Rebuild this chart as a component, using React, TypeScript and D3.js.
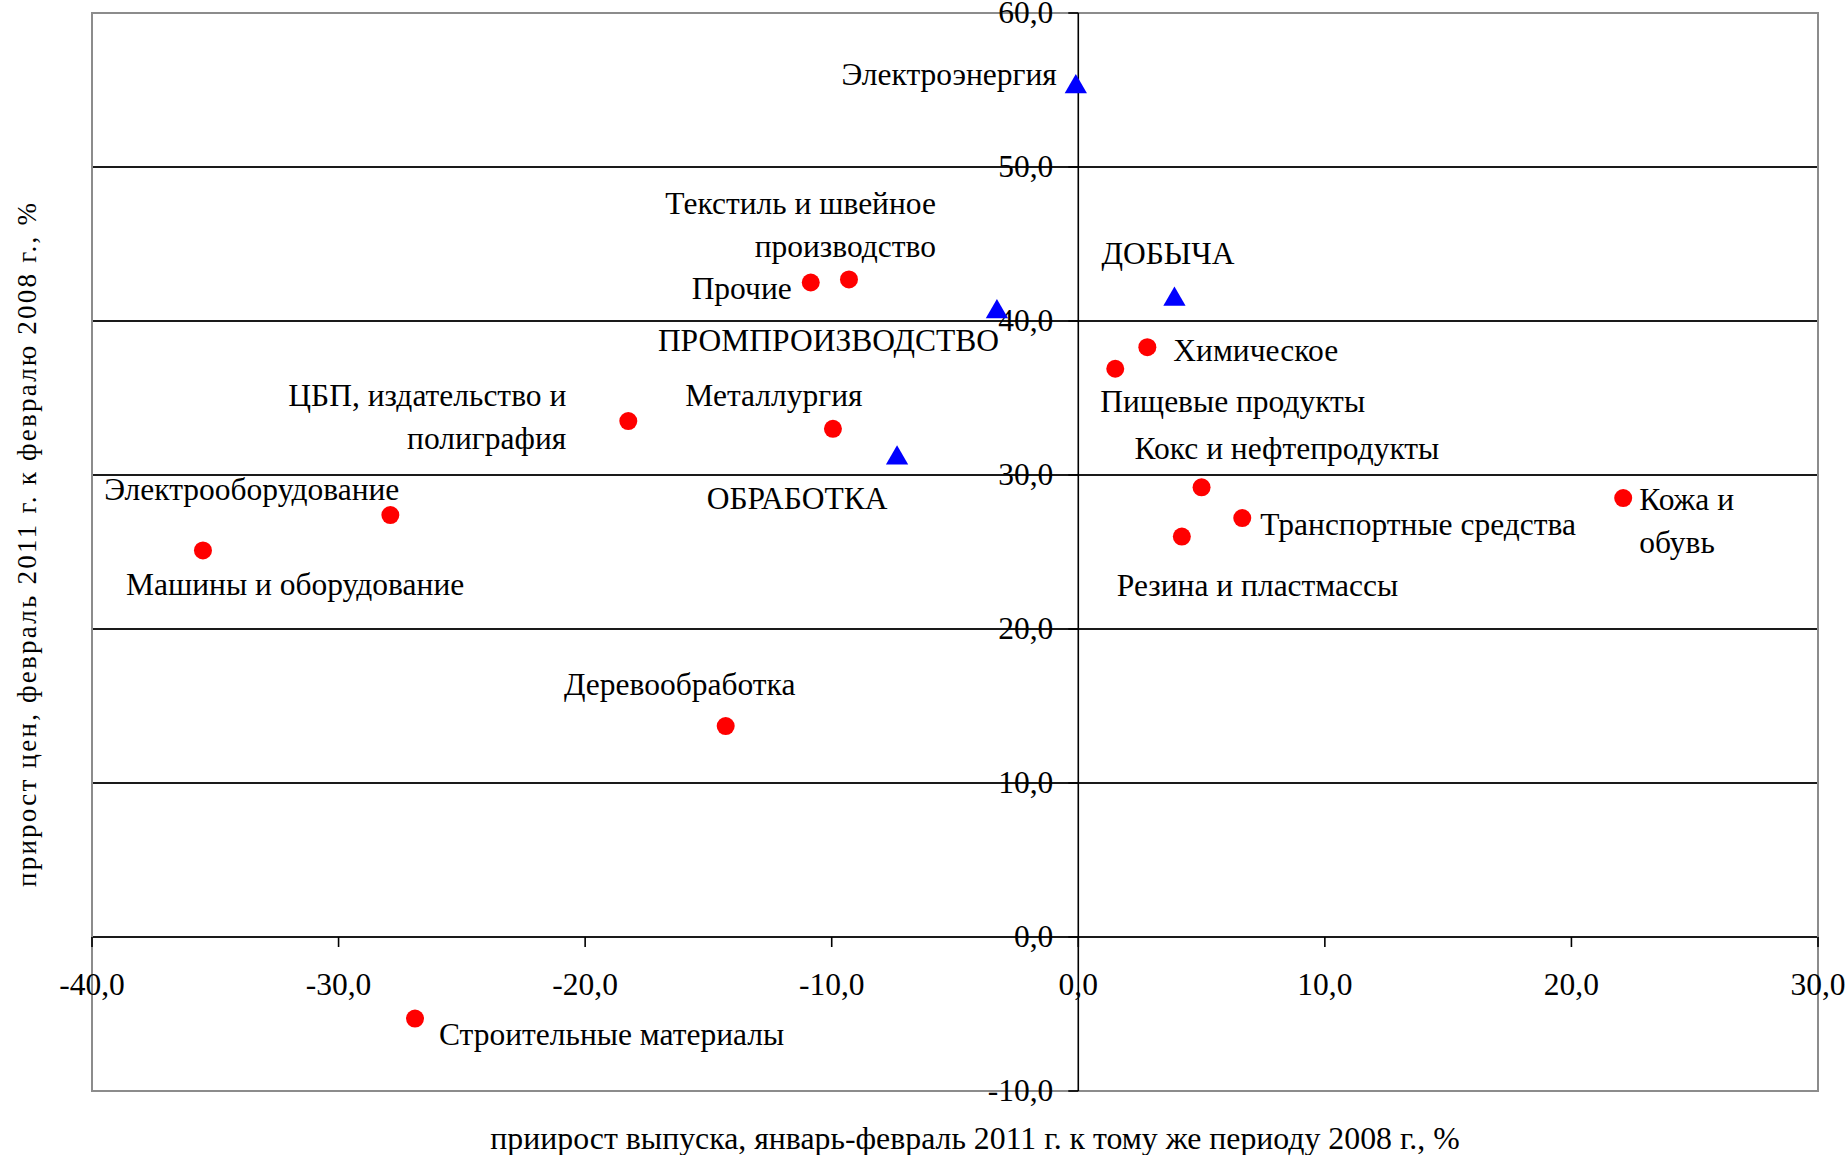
import React from 'react';
import * as d3 from 'd3';

// ---- data ----
const sectorNames = [
  'Прочие',
  'Текстиль и швейное\nпроизводство',
  'ЦБП, издательство и\nполиграфия',
  'Металлургия',
  'Электрооборудование',
  'Машины и оборудование',
  'Деревообработка',
  'Строительные материалы',
  'Пищевые продукты',
  'Химическое',
  'Кокс и нефтепродукты',
  'Транспортные средства',
  'Резина и пластмассы',
  'Кожа и\nобувь',
];
const sectorOutput = [-10.85, -9.3, -18.25, -9.95, -27.9, -35.5, -14.3, -26.9, 1.5, 2.8, 5.0, 6.65, 4.2, 22.1];
const sectorPrice = [42.5, 42.7, 33.5, 33.0, 27.4, 25.1, 13.7, -5.3, 36.9, 38.3, 29.2, 27.2, 26.0, 28.5];

const aggregateNames = ['Электроэнергия', 'ДОБЫЧА', 'ПРОМПРОИЗВОДСТВО', 'ОБРАБОТКА'];
const aggregateOutput = [-0.1, 3.9, -3.3, -7.35];
const aggregatePrice = [55.2, 41.4, 40.6, 31.1];

const xTicks = [-40, -30, -20, -10, 0, 10, 20, 30];
const yTicks = [-10, 0, 10, 20, 30, 40, 50, 60];

const xTitle = 'приирост выпуска, январь-февраль 2011 г. к тому же периоду 2008 г., %';
const yTitle = 'прирост цен, февраль 2011 г. к февралю 2008 г., %';

// ---- label layout (pixel offsets from marker) ----
type Lay = { a: 'start' | 'middle' | 'end'; dx: number; dy: number };
const sectorLayout: Lay[] = [
  { a: 'end', dx: -19, dy: 6 },
  { a: 'end', dx: 87, dy: -75 },
  { a: 'end', dx: -62, dy: -25 },
  { a: 'middle', dx: -59, dy: -33 },
  { a: 'end', dx: 9, dy: -25 },
  { a: 'start', dx: -77, dy: 35 },
  { a: 'middle', dx: -46, dy: -41 },
  { a: 'start', dx: 24, dy: 16 },
  { a: 'start', dx: -15, dy: 33 },
  { a: 'start', dx: 26, dy: 4 },
  { a: 'start', dx: -67, dy: -38 },
  { a: 'start', dx: 18, dy: 7 },
  { a: 'start', dx: -65, dy: 49 },
  { a: 'start', dx: 16, dy: 2 },
];
const aggregateLayout: Lay[] = [
  { a: 'end', dx: -19, dy: -12 },
  { a: 'start', dx: -73, dy: -45 },
  { a: 'end', dx: 2, dy: 29 },
  { a: 'middle', dx: -100, dy: 41 },
];

const W = 1847;
const H = 1155;
const plot = { left: 92, right: 1818, top: 13, bottom: 1091 };
const FONT = '"Liberation Serif", "Times New Roman", serif';
const FS = 31.5;
const LH = 43;

const fmt = (v: number) => v.toFixed(1).replace('.', ',');

export default function App() {
  const x = d3.scaleLinear().domain([-40, 30]).range([plot.left, plot.right]);
  const y = d3.scaleLinear().domain([-10, 60]).range([plot.bottom, plot.top]);
  const tri = d3.symbol().type(d3.symbolTriangle).size(215)()!;

  const label = (name: string, px: number, py: number, lay: Lay, key: string) => (
    <text key={key} x={px + lay.dx} y={py + lay.dy + 10} textAnchor={lay.a} fontFamily={FONT} fontSize={FS} fill="#000">
      {name.split('\n').map((line, i) => (
        <tspan key={i} x={px + lay.dx} dy={i === 0 ? 0 : LH}>{line}</tspan>
      ))}
    </text>
  );

  return (
    <svg width={W} height={H} style={{ position: 'absolute', left: 0, top: 0, background: '#fff' }}>
      <rect x={0} y={0} width={W} height={H} fill="#fff" />
      {/* grid lines */}
      {yTicks.filter(t => t !== -10 && t !== 60).map(t => (
        <line key={'g' + t} x1={plot.left} x2={plot.right} y1={y(t)} y2={y(t)} stroke="#1a1a1a" strokeWidth={2} />
      ))}
      {/* plot border */}
      <rect x={plot.left} y={plot.top} width={plot.right - plot.left} height={plot.bottom - plot.top} fill="none" stroke="#8c8c8c" strokeWidth={2} />
      {/* vertical axis */}
      <line x1={x(0)} x2={x(0)} y1={plot.top} y2={plot.bottom} stroke="#000" strokeWidth={1.6} />
      {yTicks.map(t => (
        <line key={'yt' + t} x1={x(0) - 10} x2={x(0)} y1={y(t)} y2={y(t)} stroke="#000" strokeWidth={1.6} />
      ))}
      {/* horizontal axis ticks */}
      {xTicks.map(t => (
        <line key={'xt' + t} x1={x(t)} x2={x(t)} y1={y(0)} y2={y(0) + 10} stroke="#000" strokeWidth={1.6} />
      ))}
      {/* tick labels */}
      {yTicks.map(t => (
        <text key={'yl' + t} x={x(0) - 25} y={y(t) + 10} textAnchor="end" fontFamily={FONT} fontSize={FS} fill="#000">{fmt(t)}</text>
      ))}
      {xTicks.map(t => (
        <text key={'xl' + t} x={x(t)} y={y(0) + 58} textAnchor="middle" fontFamily={FONT} fontSize={FS} fill="#000">{fmt(t)}</text>
      ))}
      {/* markers */}
      {sectorNames.map((n, i) => (
        <circle key={'c' + i} cx={x(sectorOutput[i])} cy={y(sectorPrice[i])} r={9} fill="#ff0000" />
      ))}
      {aggregateNames.map((n, i) => (
        <path key={'t' + i} d={tri} transform={`translate(${x(aggregateOutput[i])},${y(aggregatePrice[i])})`} fill="#0000ff" />
      ))}
      {/* labels */}
      {sectorNames.map((n, i) => label(n, x(sectorOutput[i]), y(sectorPrice[i]), sectorLayout[i], 's' + i))}
      {aggregateNames.map((n, i) => label(n, x(aggregateOutput[i]), y(aggregatePrice[i]), aggregateLayout[i], 'a' + i))}
      {/* axis titles */}
      <text x={975} y={1149} textAnchor="middle" fontFamily={FONT} fontSize={31.8} fill="#000">{xTitle}</text>
      <text transform={`translate(36,${(203 + 887) / 2}) rotate(-90)`} textAnchor="middle" fontFamily={FONT} fontSize={27} fill="#000" textLength={684} lengthAdjust="spacing">{yTitle}</text>
    </svg>
  );
}
